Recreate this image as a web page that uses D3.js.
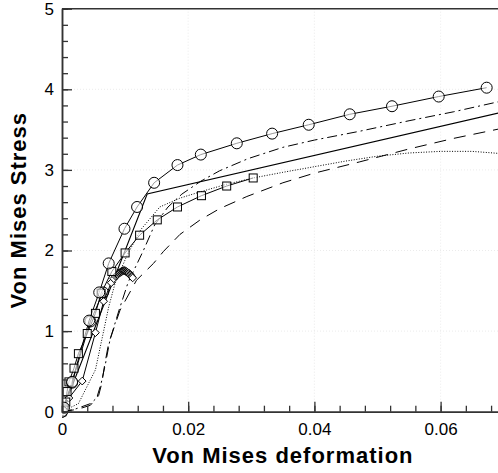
<!DOCTYPE html>
<html><head><meta charset="utf-8">
<script src="https://cdn.jsdelivr.net/npm/d3@7"></script>
<style>body{margin:0;background:#fff}svg{display:block}</style></head>
<body><svg id="c" width="498" height="473"></svg>
<script>
// ---- data ----
const xTicks = [0, 0.02, 0.04, 0.06];
const yTicks = [0, 1, 2, 3, 4, 5];
const xLabel = "Von Mises deformation";
const yLabel = "Von Mises Stress";

// circles, solid line
const circX = [0, 0.0003, 0.0016, 0.0043, 0.0059, 0.0074, 0.0099, 0.0119, 0.0146, 0.0183, 0.0220, 0.0277, 0.0333, 0.0391, 0.0456, 0.0523, 0.0597, 0.0673];
const circY = [0, 0.05, 0.37, 1.13, 1.48, 1.84, 2.27, 2.54, 2.84, 3.06, 3.19, 3.33, 3.45, 3.56, 3.69, 3.79, 3.91, 4.02];
// second short circle series
const circBX = [0, 0.0016, 0.0045, 0.0065];
const circBY = [0, 0.36, 1.12, 1.48];
// squares, solid line
const sqX = [0, 0.0003, 0.0006, 0.0008, 0.0011, 0.0019, 0.0026, 0.0040, 0.0053, 0.0062, 0.0079, 0.0100, 0.0123, 0.0151, 0.0183, 0.0221, 0.0261, 0.0303];
const sqY = [0, 0.04, 0.12, 0.25, 0.37, 0.54, 0.72, 0.97, 1.22, 1.47, 1.74, 1.97, 2.19, 2.38, 2.54, 2.68, 2.80, 2.90];
// diamonds, solid line (dense cluster near the peak)
const diaX = [0, 0.0004, 0.0011, 0.0032, 0.0053, 0.0066, 0.0078, 0.0082, 0.0085, 0.0087, 0.0088, 0.0089, 0.0090, 0.0091, 0.0092, 0.0093, 0.0094, 0.0095, 0.0096, 0.0097, 0.0098, 0.0099, 0.0100, 0.0101, 0.0102, 0.0103, 0.0104, 0.0105, 0.0106, 0.0107, 0.0108, 0.0109, 0.0110, 0.0111, 0.0112];
const diaY = [0, 0.05, 0.17, 0.38, 0.98, 1.37, 1.60, 1.65, 1.68, 1.69, 1.70, 1.71, 1.72, 1.72, 1.73, 1.73, 1.74, 1.74, 1.75, 1.75, 1.75, 1.75, 1.75, 1.74, 1.74, 1.73, 1.73, 1.72, 1.72, 1.71, 1.70, 1.69, 1.68, 1.67, 1.66];
// plain solid (bilinear)
const solX = [0, 0.0135, 0.07];
const solY = [0, 2.70, 3.72];
// dash-dot
const ddX = [0, 0.002, 0.0045, 0.0055, 0.0062, 0.0069, 0.0076, 0.0090, 0.0105, 0.0118, 0.0129, 0.0147, 0.0168, 0.0190, 0.0220, 0.0250, 0.0295, 0.0350, 0.0400, 0.0472, 0.0550, 0.0620, 0.0700];
const ddY = [0, 0.03, 0.10, 0.17, 0.35, 0.60, 0.89, 1.25, 1.61, 1.82, 2.00, 2.32, 2.54, 2.70, 2.86, 2.99, 3.14, 3.28, 3.37, 3.48, 3.61, 3.72, 3.86];
// dashed
const dsX = [0, 0.0025, 0.0045, 0.0058, 0.0063, 0.0068, 0.0074, 0.0092, 0.0118, 0.0145, 0.0161, 0.0187, 0.0219, 0.0250, 0.0293, 0.0350, 0.0400, 0.0472, 0.0550, 0.0620, 0.0700];
const dsY = [0, 0.03, 0.08, 0.20, 0.35, 0.60, 0.85, 1.26, 1.63, 1.84, 1.99, 2.20, 2.38, 2.52, 2.67, 2.84, 2.96, 3.10, 3.26, 3.39, 3.52];
// dotted
const dtX = [0, 0.0026, 0.0053, 0.0063, 0.0074, 0.0084, 0.0103, 0.0125, 0.0155, 0.0187, 0.0220, 0.0260, 0.0303, 0.0350, 0.0400, 0.0450, 0.0500, 0.0550, 0.0600, 0.0650, 0.0700];
const dtY = [0, 0.10, 0.52, 0.89, 1.30, 1.59, 1.94, 2.26, 2.54, 2.65, 2.73, 2.82, 2.90, 2.97, 3.04, 3.11, 3.17, 3.21, 3.23, 3.23, 3.20];

// ---- layout ----
const svg = d3.select("#c");
const x = d3.scaleLinear().domain([0, 0.07]).range([62, 503.7]);
const y = d3.scaleLinear().domain([0, 5]).range([411.7, 8.7]);
const X0 = x.range()[0], X1 = x.range()[1], Y0 = y.range()[0], Y1 = y.range()[1];

svg.append("defs").append("clipPath").attr("id", "clip")
  .append("rect").attr("x", X0).attr("y", Y1 - 8).attr("width", X1 - X0 + 8).attr("height", Y0 - Y1 + 16);

// grid
const grid = svg.append("g").attr("stroke", "#e2e2e2").attr("stroke-width", 0.7).attr("stroke-dasharray", "1,2");
grid.selectAll(".gx").data(xTicks.slice(1)).join("line")
  .attr("x1", d => x(d)).attr("x2", d => x(d)).attr("y1", Y0).attr("y2", Y1);
grid.selectAll(".gy").data(yTicks.slice(1, -1)).join("line")
  .attr("y1", d => y(d)).attr("y2", d => y(d)).attr("x1", X0).attr("x2", X1);

// series
const pts = (xs, ys) => xs.map((v, i) => [v, ys[i]]);
const line = d3.line().x(d => x(d[0])).y(d => y(d[1]));
const plot = svg.append("g").attr("clip-path", "url(#clip)");
const series = [
  {d: pts(dsX, dsY), dash: "12,8", w: 1},
  {d: pts(ddX, ddY), dash: "10,4,2,4", w: 1},
  {d: pts(dtX, dtY), dash: "1,1.6", w: 1},
  {d: pts(solX, solY), dash: null, w: 1.1},
  {d: pts(diaX, diaY), dash: null, w: 1},
  {d: pts(sqX, sqY), dash: null, w: 1},
  {d: pts(circBX, circBY), dash: null, w: 1},
  {d: pts(circX, circY), dash: null, w: 1}
];
series.forEach(s => {
  plot.append("path").datum(s.d).attr("d", line).attr("fill", "none")
    .attr("stroke", "#000").attr("stroke-width", s.w)
    .attr("stroke-dasharray", s.dash);
});
// markers
plot.selectAll(".dia").data(pts(diaX, diaY)).join("path")
  .attr("d", d3.symbol(d3.symbolDiamond2, 38))
  .attr("transform", d => `translate(${x(d[0])},${y(d[1])})`)
  .attr("fill", "#fff").attr("stroke", "#000").attr("stroke-width", 1);
plot.selectAll(".sq").data(pts(sqX, sqY)).join("rect")
  .attr("x", d => x(d[0]) - 4).attr("y", d => y(d[1]) - 4)
  .attr("width", 8).attr("height", 8)
  .attr("fill", "#fff").attr("fill-opacity", 0.6).attr("stroke", "#000").attr("stroke-width", 1);
plot.selectAll(".cb").data(pts(circBX, circBY)).join("circle")
  .attr("cx", d => x(d[0])).attr("cy", d => y(d[1])).attr("r", 5.5)
  .attr("fill", "none").attr("stroke", "#000").attr("stroke-width", 1);
plot.selectAll(".ci").data(pts(circX, circY)).join("circle")
  .attr("cx", d => x(d[0])).attr("cy", d => y(d[1])).attr("r", 5.5)
  .attr("fill", "#fff").attr("fill-opacity", 0.6).attr("stroke", "#000").attr("stroke-width", 1);

// frame top
svg.append("line").attr("x1", X0).attr("x2", X1).attr("y1", Y1).attr("y2", Y1)
  .attr("stroke", "#333").attr("stroke-width", 1.5);

// axes
const font = "'Liberation Sans', Arial, Helvetica, sans-serif";
const xMinor = d3.range(0, 0.0701, 0.004);
const yMinor = d3.range(0, 5.001, 0.2);
const gxm = svg.append("g").attr("transform", `translate(0,${Y0})`)
  .call(d3.axisBottom(x).tickValues(xMinor).tickSize(-6).tickFormat(""));
const gx = svg.append("g").attr("transform", `translate(0,${Y0})`)
  .call(d3.axisBottom(x).tickValues(xTicks).tickSizeInner(-10).tickSizeOuter(0).tickPadding(11.2)
    .tickFormat(d => d === 0 ? "0" : d3.format(".2f")(d)));
const gym = svg.append("g").attr("transform", `translate(${X0},0)`)
  .call(d3.axisLeft(y).tickValues(yMinor).tickSize(-6).tickFormat(""));
const gy = svg.append("g").attr("transform", `translate(${X0},0)`)
  .call(d3.axisLeft(y).tickValues(yTicks).tickSizeInner(-10).tickSizeOuter(0).tickPadding(8)
    .tickFormat(d3.format("d")));
[gxm, gx, gym, gy].forEach(g => {
  g.selectAll("line").attr("stroke", "#333").attr("stroke-width", 1.3);
  g.select(".domain").attr("stroke", "#333").attr("stroke-width", 1.5);
  g.selectAll("text").attr("font-family", font).attr("font-size", 17).attr("fill", "#000");
});

// labels
svg.append("text").attr("x", x(0.035)).attr("y", 463)
  .attr("text-anchor", "middle").attr("font-family", font).attr("font-weight", "bold")
  .attr("font-size", 22).attr("letter-spacing", 1).text(xLabel);
svg.append("text").attr("transform", `translate(26,${(Y0 + Y1) / 2}) rotate(-90)`)
  .attr("text-anchor", "middle").attr("font-family", font).attr("font-weight", "bold")
  .attr("font-size", 22).attr("letter-spacing", 1).text(yLabel);
</script></body></html>
